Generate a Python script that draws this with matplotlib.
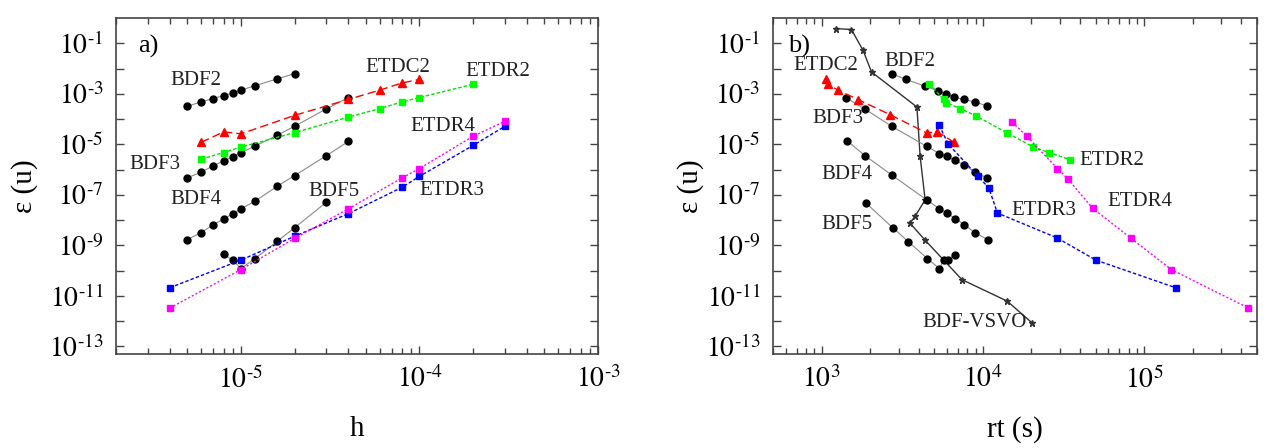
import matplotlib
matplotlib.use('Agg')
import matplotlib.pyplot as plt
from matplotlib.ticker import FixedLocator, LogLocator, FuncFormatter, NullFormatter

plt.rcParams['font.family'] = 'Liberation Serif'
plt.rcParams['mathtext.fontset'] = 'stix'

# ---- panel a): error vs step size h ----
bdf2_h = [5e-6, 6e-6, 7e-6, 8e-6, 9e-6, 1e-5, 1.2e-5, 1.6e-5, 2e-5]
bdf2_e = [3.2e-4, 4.8e-4, 6.5e-4, 8.5e-4, 1.07e-3, 1.38e-3, 2.1e-3, 3.9e-3, 6.3e-3]
bdf3_h = [5e-6, 6e-6, 7e-6, 8e-6, 9e-6, 1e-5, 1.2e-5, 1.6e-5, 2e-5, 3e-5, 4e-5]
bdf3_e = [4.7e-7, 7.9e-7, 1.4e-6, 2.2e-6, 3.2e-6, 4.7e-6, 8.5e-6, 2.3e-5, 5.2e-5, 2.5e-4, 7.1e-4]
bdf4_h = bdf3_h
bdf4_e = [1.7e-9, 3.2e-9, 6.6e-9, 1.1e-8, 1.8e-8, 2.8e-8, 5.6e-8, 2.2e-7, 5.8e-7, 3.5e-6, 1.3e-5]
bdf5_h = [8e-6, 9e-6, 1e-5, 1.2e-5, 1.6e-5, 2e-5, 3e-5]
bdf5_e = [4.4e-10, 2.6e-10, 1.2e-10, 3.0e-10, 1.45e-9, 5.0e-9, 5.0e-8]
etdc2_h = [6e-6, 8e-6, 1e-5, 2e-5, 4e-5, 6e-5, 8e-5, 1e-4]
etdc2_e = [1.2e-5, 3.1e-5, 2.6e-5, 1.4e-4, 6.0e-4, 1.4e-3, 2.7e-3, 3.7e-3]
etdr2_h = [6e-6, 8e-6, 1e-5, 2e-5, 4e-5, 6e-5, 8e-5, 1e-4, 2e-4]
etdr2_e = [2.6e-6, 4.7e-6, 7.8e-6, 2.9e-5, 1.2e-4, 2.6e-4, 4.8e-4, 7.1e-4, 2.4e-3]
etdr3_h = [4e-6, 1e-5, 2e-5, 4e-5, 8e-5, 1e-4, 2e-4, 3e-4]
etdr3_e = [2.1e-11, 2.6e-10, 2.3e-9, 1.8e-8, 2.0e-7, 5.4e-7, 9.1e-6, 5.1e-5]
etdr4_h = etdr3_h
etdr4_e = [3.3e-12, 1.1e-10, 1.9e-9, 2.8e-8, 4.7e-7, 1.1e-6, 2.1e-5, 8.1e-5]

# ---- panel b): error vs run time ----
vsvo_t = [1235, 1531, 1807, 2040, 3900, 4083, 4385, 3796, 3532, 4385, 7413, 14150, 20260]
vsvo_e = [0.38, 0.35, 0.053, 7.3e-3, 3.0e-4, 3.35e-6, 6.3e-8, 1.4e-8, 7.6e-9, 1.6e-9, 4.4e-11, 6.2e-12, 8.3e-13]
bdf2_t = [2716, 3335, 4385, 5305, 5927, 6645, 7590, 8890, 10620]
bdf2_r = [6.3e-3, 3.7e-3, 2.0e-3, 1.3e-3, 1.0e-3, 7.4e-4, 6.0e-4, 4.8e-4, 3.3e-4]
bdf3_t = [1425, 1853, 2716, 4487, 5380, 5985, 6745, 7675, 8985, 10620]
bdf3_r = [6.8e-4, 2.5e-4, 5.2e-5, 8.3e-6, 4.3e-6, 3.3e-6, 2.3e-6, 1.5e-6, 7.9e-7, 4.6e-7]
bdf4_t = [1446, 1853, 2741, 4487, 5380, 5985, 6745, 7675, 8890, 10710]
bdf4_r = [1.35e-5, 3.6e-6, 5.9e-7, 6.3e-8, 2.8e-8, 1.9e-8, 1.15e-8, 6.6e-9, 3.2e-9, 1.7e-9]
bdf5_t = [1880, 2760, 3450, 4530, 5380, 5700, 6040, 6745]
bdf5_r = [4.8e-8, 5.0e-9, 1.4e-9, 3.0e-10, 1.2e-10, 2.6e-10, 2.7e-10, 4.3e-10]
etdc2_t = [1070, 1090, 1264, 1683, 2654, 4487, 5227, 6640]
etdc2_r = [3.7e-3, 2.4e-3, 1.4e-3, 5.9e-4, 1.5e-4, 2.8e-5, 3.1e-5, 1.2e-5]
etdr2_t = [4665, 5700, 5900, 7245, 9120, 14160, 20560, 25700, 34580]
etdr2_r = [2.5e-3, 6.0e-4, 4.5e-4, 2.6e-4, 1.3e-4, 2.8e-5, 7.8e-6, 4.7e-6, 2.5e-6]
etdr3_t = [5355, 6120, 9330, 10870, 12310, 28710, 50230, 156700]
etdr3_r = [5.6e-5, 1.0e-5, 5.4e-7, 1.9e-7, 1.9e-8, 2.0e-9, 2.6e-10, 2.1e-11]
etdr4_t = [15210, 18670, 28970, 33480, 47900, 82900, 147200, 442700]
etdr4_r = [7.6e-5, 2.1e-5, 1.1e-6, 4.4e-7, 2.95e-8, 1.9e-9, 1.1e-10, 3.3e-12]

bdf_style = dict(color='#8a8a8a', lw=0.8, marker='o', ms=5, mfc='black', mec='black')
styles = {
    'etdc2': dict(color='#ff0000', lw=1.0, ls=(0, (6, 3)), marker='^', ms=6),
    'etdr2': dict(color='#00e000', lw=1.0, ls=(0, (2.5, 1.5)), marker='s', ms=5, mfc='#00ff00', mec='#00ff00'),
    'etdr3': dict(color='#0000ff', lw=1.0, ls=(0, (2.5, 1.5)), marker='s', ms=5),
    'etdr4': dict(color='#ff00ff', lw=1.0, ls=(0, (1.5, 1.5)), marker='s', ms=5),
}

fig = plt.figure(figsize=(12.67, 4.48), dpi=100)
ax1 = fig.add_axes([0.0916, 0.2098, 0.3804, 0.75])
ax2 = fig.add_axes([0.6101, 0.2098, 0.3820, 0.75])


def expo(v):
    import math
    k = int(round(math.log10(v)))
    if k < 0:
        return r'$10^{\text{-}%d}$' % (-k)
    return r'$10^{%d}$' % k


def yfmt(v, pos):
    import math
    k = int(round(math.log10(v)))
    if k % 2 == 0:
        return ''
    return expo(v)


def xfmt(v, pos):
    return expo(v)


for ax in (ax1, ax2):
    ax.set_xscale('log')
    ax.set_yscale('log')
    ax.set_ylim(5e-14, 1)
    ax.yaxis.set_major_locator(FixedLocator([10.0 ** k for k in range(-13, 0)]))
    ax.yaxis.set_major_formatter(FuncFormatter(yfmt))
    ax.yaxis.set_minor_locator(FixedLocator([]))
    ax.xaxis.set_major_formatter(FuncFormatter(xfmt))
    ax.xaxis.set_minor_locator(LogLocator(base=10, subs=range(2, 10), numticks=20))
    ax.xaxis.set_minor_formatter(NullFormatter())
    ax.tick_params(which='both', direction='in', top=True, right=True, color='#444444')
    ax.tick_params(which='major', length=6, width=1, labelsize=20, pad=9)
    ax.tick_params(which='minor', length=4, width=1)
    for s in ax.spines.values():
        s.set_color('#444444')
        s.set_linewidth(1.2)

ax1.set_ylabel('ε (u)', fontsize=21, labelpad=8)
ax2.set_ylabel('ε (u)', fontsize=21, labelpad=1)

# panel a
ax1.set_xlim(2e-6, 1e-3)
ax1.plot(bdf2_h, bdf2_e, **bdf_style)
ax1.plot(bdf3_h, bdf3_e, **bdf_style)
ax1.plot(bdf4_h, bdf4_e, **bdf_style)
ax1.plot(bdf5_h, bdf5_e, **bdf_style)
ax1.plot(etdc2_h, etdc2_e, **styles['etdc2'])
ax1.plot(etdr2_h, etdr2_e, **styles['etdr2'])
ax1.plot(etdr3_h, etdr3_e, **styles['etdr3'])
ax1.plot(etdr4_h, etdr4_e, **styles['etdr4'])
ax1.set_xlabel('h', fontsize=21, labelpad=16)
lab = dict(fontsize=15, ha='center', va='center', color='#222222')
ax1.text(0.045, 0.915, 'a)', transform=ax1.transAxes, fontsize=19, ha='left', va='center')
ax1.text(0.165, 0.815, 'BDF2', transform=ax1.transAxes, **lab)
ax1.text(0.08, 0.565, 'BDF3', transform=ax1.transAxes, **lab)
ax1.text(0.165, 0.46, 'BDF4', transform=ax1.transAxes, **lab)
ax1.text(0.452, 0.483, 'BDF5', transform=ax1.transAxes, **lab)
ax1.text(0.585, 0.852, 'ETDC2', transform=ax1.transAxes, **lab)
ax1.text(0.792, 0.84, 'ETDR2', transform=ax1.transAxes, **lab)
ax1.text(0.678, 0.676, 'ETDR4', transform=ax1.transAxes, **lab)
ax1.text(0.697, 0.488, 'ETDR3', transform=ax1.transAxes, **lab)

# panel b
ax2.set_xlim(500, 5e5)
ax2.plot(vsvo_t, vsvo_e, color='#333333', lw=1.0, marker='*', ms=4.5, mfc='#333333', mec='#333333')
ax2.plot(bdf2_t, bdf2_r, **bdf_style)
ax2.plot(bdf3_t, bdf3_r, **bdf_style)
ax2.plot(bdf4_t, bdf4_r, **bdf_style)
ax2.plot(bdf5_t, bdf5_r, **bdf_style)
ax2.plot(etdc2_t, etdc2_r, **styles['etdc2'])
ax2.plot(etdr2_t, etdr2_r, **styles['etdr2'])
ax2.plot(etdr3_t, etdr3_r, **styles['etdr3'])
ax2.plot(etdr4_t, etdr4_r, **styles['etdr4'])
ax2.set_xlabel('rt (s)', fontsize=21, labelpad=16)
ax2.text(0.032, 0.915, 'b)', transform=ax2.transAxes, fontsize=19, ha='left', va='center')
ax2.text(0.11, 0.86, 'ETDC2', transform=ax2.transAxes, **lab)
ax2.text(0.283, 0.87, 'BDF2', transform=ax2.transAxes, **lab)
ax2.text(0.134, 0.70, 'BDF3', transform=ax2.transAxes, **lab)
ax2.text(0.153, 0.535, 'BDF4', transform=ax2.transAxes, **lab)
ax2.text(0.153, 0.385, 'BDF5', transform=ax2.transAxes, **lab)
ax2.text(0.417, 0.093, 'BDF-VSVO', transform=ax2.transAxes, **lab)
ax2.text(0.7, 0.577, 'ETDR2', transform=ax2.transAxes, **lab)
ax2.text(0.757, 0.455, 'ETDR4', transform=ax2.transAxes, **lab)
ax2.text(0.56, 0.426, 'ETDR3', transform=ax2.transAxes, **lab)

fig.savefig('out.png', dpi=100)
